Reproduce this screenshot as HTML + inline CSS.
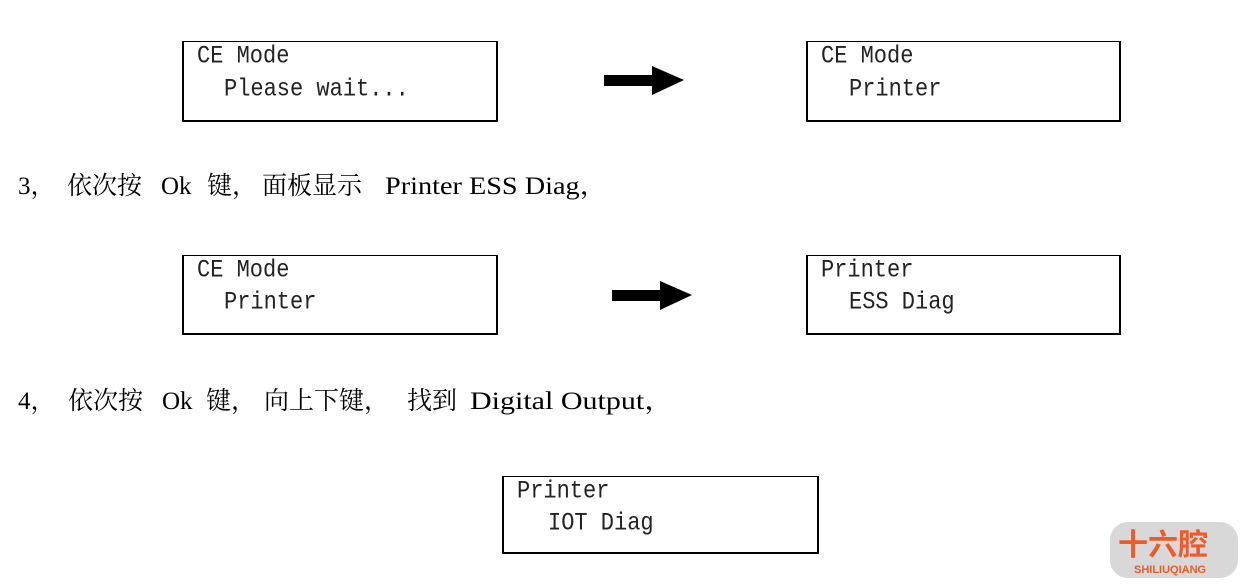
<!DOCTYPE html>
<html><head><meta charset="utf-8"><style>
body{margin:0;width:1244px;height:586px;background:#fff;position:relative;overflow:hidden}
.box{position:absolute;border:2px solid #000;box-sizing:border-box;border-top-width:1.5px}
.l{position:absolute;font-family:"Liberation Mono",monospace;font-size:22px;color:#222;white-space:pre;transform:scaleY(1.15);transform-origin:left top;line-height:22px}
.t{position:absolute;font-family:"Liberation Serif","Noto Serif CJK SC","Noto Sans CJK SC",serif;font-size:25px;white-space:pre;line-height:28px;color:#000;transform-origin:left top}
</style></head><body>
<div class="box" style="left:182px;top:41px;width:316px;height:81px"></div>
<div class="l" style="left:197px;top:44px">CE Mode</div>
<div class="l" style="left:224px;top:77px">Please wait...</div>
<svg style="position:absolute;left:600px;top:62px" width="90" height="40"><polygon points="4,13 52,13 52,4 84,18 52,33 52,24 4,24" fill="#000"/></svg>
<div class="box" style="left:806px;top:41px;width:315px;height:81px"></div>
<div class="l" style="left:821px;top:44px">CE Mode</div>
<div class="l" style="left:849px;top:77px">Printer</div>

<div class="t" style="left:18px;top:173px">3，</div>
<div class="t" style="left:67px;top:173px">依次按</div>
<div class="t" style="left:161px;top:173px">Ok</div>
<div class="t" style="left:207px;top:173px">键，</div>
<div class="t" style="left:262px;top:173px">面板显示</div>
<div class="t" style="left:385px;top:173px;transform:scaleX(1.13)">Printer ESS Diag，</div>

<div class="box" style="left:182px;top:255px;width:316px;height:80px"></div>
<div class="l" style="left:197px;top:258px">CE Mode</div>
<div class="l" style="left:224px;top:290px">Printer</div>
<svg style="position:absolute;left:608px;top:277px" width="90" height="40"><polygon points="4,13 52,13 52,4 84,18 52,33 52,24 4,24" fill="#000"/></svg>
<div class="box" style="left:806px;top:255px;width:315px;height:80px"></div>
<div class="l" style="left:821px;top:258px">Printer</div>
<div class="l" style="left:849px;top:290px">ESS Diag</div>

<div class="t" style="left:18px;top:388px">4，</div>
<div class="t" style="left:68px;top:388px">依次按</div>
<div class="t" style="left:162px;top:388px">Ok</div>
<div class="t" style="left:206px;top:388px">键，</div>
<div class="t" style="left:264px;top:388px">向上下键，</div>
<div class="t" style="left:407px;top:388px">找到</div>
<div class="t" style="left:470px;top:388px;transform:scaleX(1.2)">Digital Output，</div>

<div class="box" style="left:502px;top:476px;width:317px;height:78px"></div>
<div class="l" style="left:517px;top:479px">Printer</div>
<div class="l" style="left:548px;top:511px">IOT Diag</div>

<div style="position:absolute;left:1110px;top:522px;width:128px;height:56px;background:#d8d8d8;border-radius:18px"></div>
<div style="position:absolute;left:1118px;top:522px;font-family:'Noto Sans CJK SC',sans-serif;font-weight:bold;font-size:30px;color:#f05a28;line-height:40px">十六腔</div>
<div style="position:absolute;left:1134px;top:564px;font-family:'Liberation Sans',sans-serif;font-weight:bold;font-size:11px;color:#f05a28">SHILIUQIANG</div>
</body></html>
